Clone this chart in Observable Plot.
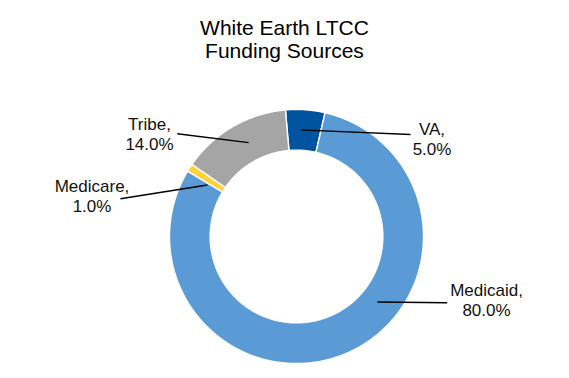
<!DOCTYPE html>
<html>
<head>
<meta charset="utf-8">
<script src="https://cdn.jsdelivr.net/npm/d3@7"></script>
<script src="https://cdn.jsdelivr.net/npm/@observablehq/plot@0.6"></script>
<style>
  html, body { margin: 0; padding: 0; background: #fff; }
  #wrap { width: 569px; height: 378px; overflow: hidden; font-family: "Liberation Sans", Arial, sans-serif; }
  #title { box-sizing: border-box; height: 62px; padding-top: 16px; text-align: center; font-size: 21px; line-height: 23px; color: #000; }
  #chart svg { display: block; }
</style>
</head>
<body>
<div id="wrap">
  <div id="title">White Earth LTCC<br>Funding Sources</div>
  <div id="chart"></div>
</div>
<script>
// ---- data ----
const categories = ["VA", "Medicaid", "Medicare", "Tribe"];
const shares = [5.0, 80.0, 1.0, 14.0];
const colors = ["#00539E", "#5B9BD5", "#FFD23A", "#A5A5A5"];

// ---- layout (pixels) ----
const W = 569, H = 316;
const cx = 296, cy = 174;      // donut centre inside the SVG
const R = 127;                  // outer radius in px (= 1 data unit)
const inner = 0.68;             // inner radius as fraction of outer
const startAngle = -5;          // degrees clockwise from 12 o'clock
// label layout: label centre offset from centre, leader start (angle, radius), leader end offset
const labelLayout = [
  {dx: 135.5, dy: -97.5, la: 2,   lr: 0.84, ex: 114,   ey: -102},
  {dx: 190,   dy: 63,    la: 129, lr: 0.82, ex: 150.7, ey: 66.3},
  {dx: -204.5,dy: -41.3, la: 300, lr: 0.81, ex: -176,  ey: -37.7},
  {dx: -147,  dy: -103.3,la: 333, lr: 0.83, ex: -119.3,ey: -102.7}
];

const total = d3.sum(shares);
const toRad = a => a * Math.PI / 180;
let acc = startAngle;
const slices = categories.map((name, i) => {
  const a0 = acc, a1 = acc + shares[i] / total * 360;
  acc = a1;
  return {name, value: shares[i], a0, a1};
});

// polygon points for each ring segment
const pts = [];
for (const s of slices) {
  const n = Math.max(2, Math.ceil((s.a1 - s.a0) / 0.5));
  for (let k = 0; k <= n; k++) {
    const a = toRad(s.a0 + (s.a1 - s.a0) * k / n);
    pts.push({name: s.name, x: Math.sin(a), y: Math.cos(a)});
  }
  for (let k = n; k >= 0; k--) {
    const a = toRad(s.a0 + (s.a1 - s.a0) * k / n);
    pts.push({name: s.name, x: inner * Math.sin(a), y: inner * Math.cos(a)});
  }
}

const labels = slices.map((s, i) => {
  const L = labelLayout[i];
  return {
    text: `${s.name},\n${s.value.toFixed(1)}%`,
    x: L.dx / R, y: -L.dy / R,
    x1: L.lr * Math.sin(toRad(L.la)), y1: L.lr * Math.cos(toRad(L.la)),
    x2: L.ex / R, y2: -L.ey / R
  };
});

const chart = Plot.plot({
  width: W, height: H,
  margin: 0,
  x: {domain: [-cx / R, (W - cx) / R], axis: null},
  y: {domain: [-(H - cy) / R, cy / R], axis: null},
  color: {domain: categories, range: colors},
  style: {fontFamily: "'Liberation Sans', Arial, sans-serif", background: "#fff"},
  marks: [
    Plot.line(pts, {x: "x", y: "y", z: "name", fill: "name", stroke: "white", strokeWidth: 1.4, curve: "linear-closed", strokeLinejoin: "miter"}),
    Plot.link(labels, {x1: "x1", y1: "y1", x2: "x2", y2: "y2", stroke: "#000", strokeWidth: 1.4}),
    Plot.text(labels, {x: "x", y: "y", text: "text", fontSize: 17, lineHeight: 1.18, fill: "#111", textAnchor: "middle", lineAnchor: "middle"})
  ]
});
document.getElementById("chart").appendChild(chart);
</script>
</body>
</html>
